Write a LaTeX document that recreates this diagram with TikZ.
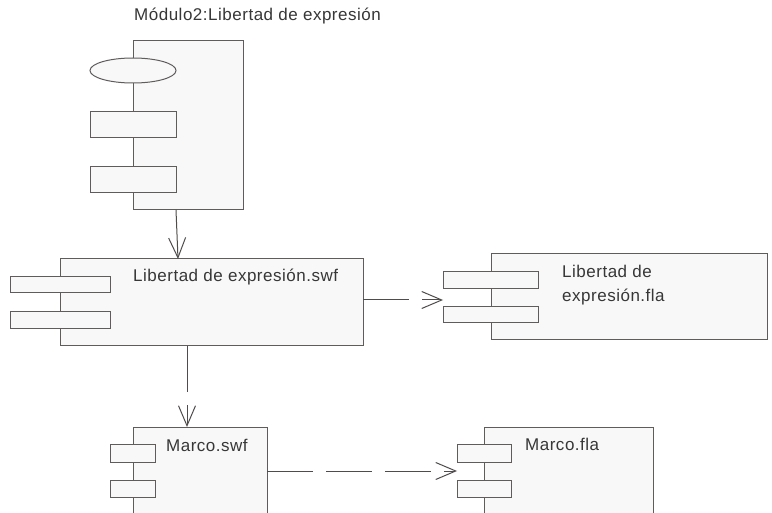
\documentclass[tikz,border=0pt]{standalone}
\usepackage{fontspec}
\setmainfont{Liberation Sans}[LetterSpace=3]
\usetikzlibrary{arrows.meta,shapes.geometric}
\definecolor{boxfill}{RGB}{248,248,248}
\definecolor{boxline}{RGB}{96,92,92}
\definecolor{conline}{RGB}{80,76,76}
\definecolor{txt}{RGB}{55,55,55}
\tikzset{
  comp/.style={draw=boxline, fill=boxfill, line width=1pt, inner sep=0pt, outer sep=0pt, anchor=north west, rectangle},
  port/.style={comp},
  lbl/.style={anchor=base west, inner sep=0pt, text=txt, font=\fontsize{17}{20}\selectfont},
  dep/.style={draw=conline, line width=1pt, -{Straight Barb[length=20pt,width=17pt,line width=1pt]}},
  dashdep/.style={dep, dash pattern=on 46pt off 13pt},
}
\begin{document}
\begin{tikzpicture}[x=1pt,y=-1pt]
\path[fill=white] (0,0) rectangle (772,513);
\useasboundingbox (0,0) rectangle (772,513);
\clip (0,0) rectangle (772,513);

% Module (subsystem)
\node[lbl] (modtitle) at (134,21) {Módulo2:Libertad de expresión};
\node[comp, minimum width=110pt, minimum height=169pt] (mod) at (133,41) {};
\node[draw=boxline, fill=boxfill, line width=1pt, ellipse, inner sep=0pt, minimum width=86pt, minimum height=25pt] (modell) at (133,70.5) {};
\node[port, minimum width=86pt, minimum height=26pt] (modp1) at (90,112) {};
\node[port, minimum width=86pt, minimum height=26pt] (modp2) at (90,167) {};

% Libertad de expresion.swf
\node[comp, minimum width=303pt, minimum height=87pt] (swf) at (60,259) {};
\node[port, minimum width=100pt, minimum height=16pt] (swfp1) at (10,277) {};
\node[port, minimum width=100pt, minimum height=17pt] (swfp2) at (10,312) {};
\node[lbl] (swft) at (133,282) {Libertad de expresión.swf};

% Libertad de expresion.fla
\node[comp, minimum width=276pt, minimum height=86pt] (fla) at (491,254) {};
\node[port, minimum width=95pt, minimum height=17pt] (flap1) at (443,272) {};
\node[port, minimum width=95pt, minimum height=16pt] (flap2) at (443,307) {};
\node[lbl] (flat1) at (562,278) {Libertad de};
\node[lbl] (flat2) at (562,302) {expresión.fla};

% Marco.swf
\node[comp, minimum width=134pt, minimum height=100pt] (mswf) at (133,427) {};
\node[port, minimum width=45pt, minimum height=18pt] (mswfp1) at (110,444) {};
\node[port, minimum width=45pt, minimum height=17pt] (mswfp2) at (110,480) {};
\node[lbl] (mswft) at (166,451) {Marco.swf};

% Marco.fla
\node[comp, minimum width=169pt, minimum height=100pt] (mfla) at (484,427) {};
\node[port, minimum width=54pt, minimum height=18pt] (mflap1) at (457,444) {};
\node[port, minimum width=54pt, minimum height=17pt] (mflap2) at (457,480) {};
\node[lbl] (mflat) at (525,450) {Marco.fla};

% connectors
\coordinate (c1s) at (176,210);
\coordinate (c1e) at (178,259);
\draw[dep] (c1s) -- (c1e);
\draw[dashdep] (swf.east |- 0,300) -- (flap1.west |- 0,300);
\draw[dashdep] (187,346) -- (187,427);
\draw[dashdep] (mswf.east |- 0,471) -- (mflap1.west |- 0,471);
\end{tikzpicture}
\end{document}
